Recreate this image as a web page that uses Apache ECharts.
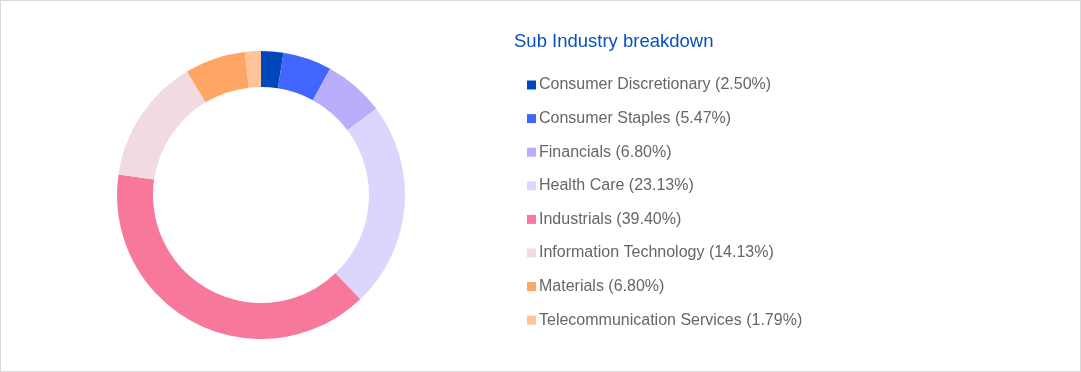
<!DOCTYPE html>
<html>
<head>
<meta charset="utf-8">
<script src="https://cdn.jsdelivr.net/npm/echarts@6/dist/echarts.min.js"></script>
<style>
html,body{margin:0;padding:0;background:#fff;}
#c{width:1081px;height:372px;box-sizing:border-box;border:1px solid #d9d9d9;}
</style>
</head>
<body>
<div id="c"></div>
<script>
const categories = ["Consumer Discretionary","Consumer Staples","Financials","Health Care","Industrials","Information Technology","Materials","Telecommunication Services"];
const values = [2.50, 5.47, 6.80, 23.13, 39.40, 14.13, 6.80, 1.79];
const colors = ["#0047BB","#4066FF","#B9AEFC","#DCD6FE","#F7789A","#F1DAE0","#FFA664","#FFC39A"];
const titleText = "Sub Industry breakdown";

const chart = echarts.init(document.getElementById('c'), null, {renderer:'canvas'});
const data = categories.map((n,i)=>({name:n, value:values[i], itemStyle:{color:colors[i]}}));
const valMap = {};
categories.forEach((n,i)=>valMap[n]=values[i]);
chart.setOption({
  animation:false,
  title:{
    text:titleText,
    left:513, top:31, padding:0,
    textStyle:{fontFamily:'Arial', fontSize:18.5, fontWeight:'normal', color:'#0A4FBF'}
  },
  legend:{
    orient:'vertical',
    left:526, top:74, padding:0,
    itemWidth:9, itemHeight:9,
    itemGap:13.6,
    icon:'rect',
    textStyle:{fontFamily:'Arial', fontSize:16, color:'#666666', lineHeight:20, padding:[0,0,0,-2]},
    formatter:(n)=>n+' ('+valMap[n].toFixed(2)+'%)',
    selectedMode:false
  },
  series:[{
    type:'pie',
    center:[260,194],
    radius:[108,144],
    startAngle:90,
    clockwise:true,
    label:{show:false},
    labelLine:{show:false},
    emphasis:{disabled:true},
    itemStyle:{borderWidth:0},
    data:data
  }]
});
</script>
</body>
</html>
